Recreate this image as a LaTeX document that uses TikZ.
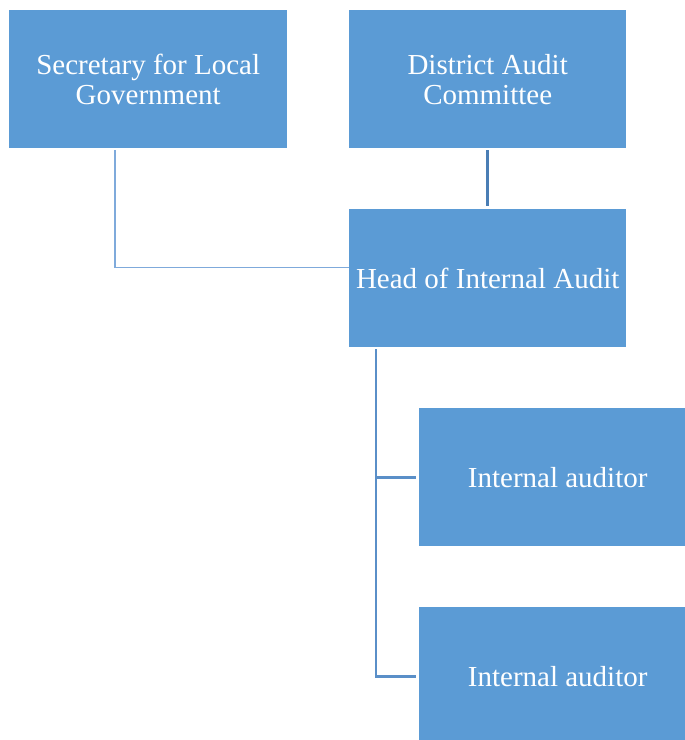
\documentclass[tikz,border=0pt]{standalone}
\usepackage{fontspec}
\setmainfont{Liberation Serif}
\definecolor{boxfill}{HTML}{5B9BD5}
\definecolor{linkdark}{HTML}{4A7EB5}
\definecolor{linklight}{HTML}{7FAADB}
\definecolor{linkmid}{HTML}{5A8FC8}
\begin{document}
\begin{tikzpicture}[x=1pt,y=-1pt,
  orgbox/.style={fill=boxfill, draw=none, text=white, align=center,
    font=\fontsize{29}{30}\selectfont, inner sep=0pt, anchor=north west},
  link/.style={line width=2.6pt, draw=linkmid},
  thinlink/.style={line width=1.3pt, draw=linklight}]
\useasboundingbox (0,0) rectangle (685,740);
\clip (0,0) rectangle (685,740);
\node[orgbox, minimum width=278pt, minimum height=138pt] (sec) at (9,10)
  {Secretary for Local\\Government};
\node[orgbox, minimum width=277pt, minimum height=138pt] (dac) at (349,10)
  {District Audit\\Committee};
\node[orgbox, minimum width=277pt, minimum height=138pt] (head) at (349,209)
  {Head of Internal Audit};
\node[orgbox, minimum width=277pt, minimum height=138pt] (ia1) at (419,408)
  {Internal auditor};
\node[orgbox, minimum width=277pt, minimum height=138pt] (ia2) at (419,607)
  {Internal auditor};
% reporting lines
\draw[link, draw=linkdark, shorten <=2pt, shorten >=3pt] (dac.south) -- (head.north);
\coordinate (secjoin) at ([yshift=11pt]head.west);
\draw[thinlink, shorten <=2pt] (sec.south -| 115,0) |- (secjoin);
\coordinate (trunk) at ([xshift=27pt]head.south west);
\draw[link, shorten <=2pt] (trunk) |- ([xshift=-3pt]ia2.west);
\draw[link] (trunk |- ia1.west) -- ([xshift=-3pt]ia1.west);
\end{tikzpicture}
\end{document}
